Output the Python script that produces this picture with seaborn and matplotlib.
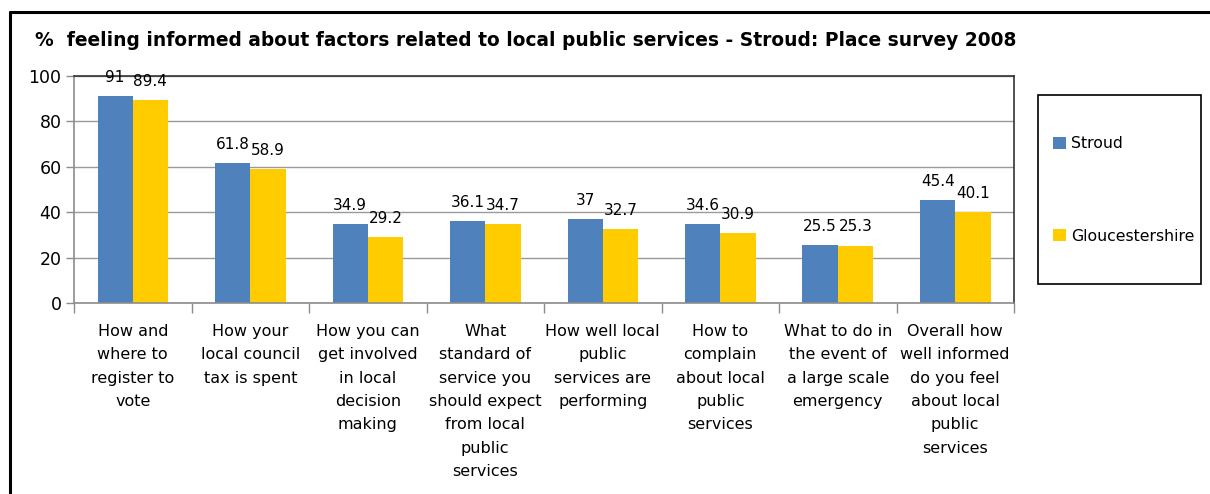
import matplotlib
matplotlib.use("Agg")
import matplotlib.pyplot as plt
from matplotlib.patches import Rectangle
from matplotlib.lines import Line2D
import seaborn as sns
import pandas as pd

categories = [
    "How and\nwhere to\nregister to\nvote",
    "How your\nlocal council\ntax is spent",
    "How you can\nget involved\nin local\ndecision\nmaking",
    "What\nstandard of\nservice you\nshould expect\nfrom local\npublic\nservices",
    "How well local\npublic\nservices are\nperforming",
    "How to\ncomplain\nabout local\npublic\nservices",
    "What to do in\nthe event of\na large scale\nemergency",
    "Overall how\nwell informed\ndo you feel\nabout local\npublic\nservices",
]
stroud = [91, 61.8, 34.9, 36.1, 37, 34.6, 25.5, 45.4]
gloucestershire = [89.4, 58.9, 29.2, 34.7, 32.7, 30.9, 25.3, 40.1]
series_names = ["Stroud", "Gloucestershire"]
colors = ["#4F81BD", "#FFCC00"]
title = "%  feeling informed about factors related to local public services - Stroud: Place survey 2008"

df = pd.DataFrame({
    "category": categories * 2,
    "value": stroud + gloucestershire,
    "area": [series_names[0]] * len(categories) + [series_names[1]] * len(categories),
})

sns.set_theme(style="white")
plt.rcParams["font.family"] = ["DejaVu Sans"]
plt.rcParams["text.color"] = "black"
plt.rcParams["xtick.color"] = "black"
plt.rcParams["ytick.color"] = "black"

W, H = 1210, 494
fig = plt.figure(figsize=(W / 100, H / 100), dpi=100)
fig.patch.set_facecolor("white")

# plot area in pixel terms: x 74..1014, y 76..303
ax = fig.add_axes([74 / W, (H - 303) / H, 940 / W, 227 / H])
sns.barplot(data=df, x="category", y="value", hue="area", palette=colors,
            width=0.6, saturation=1, ax=ax, legend=False, errorbar=None,
            linewidth=0, edgecolor="none")

ax.set_ylim(0, 100)
ax.set_xlim(-0.5, len(categories) - 0.5)
ax.set_yticks(range(0, 101, 20))
ax.set_xlabel("")
ax.set_ylabel("")
ax.yaxis.grid(True, color="#9A9A9A", linewidth=1)
ax.set_axisbelow(True)

for side in ["left", "bottom"]:
    ax.spines[side].set_color("#8C8C8C")
    ax.spines[side].set_linewidth(1.2)
for side in ["top", "right"]:
    ax.spines[side].set_color("#333333")
    ax.spines[side].set_linewidth(1.2)
    ax.spines[side].set_visible(True)

ax.tick_params(axis="y", which="major", length=6, width=1, color="#8C8C8C",
               left=True, labelsize=12.5, pad=3, labelcolor="black")
ax.set_xticks(range(len(categories)))
ax.set_xticklabels(categories, fontsize=11.5, linespacing=1.7, va="top", color="black")
ax.tick_params(axis="x", which="major", length=0, pad=15)
ax.set_xticks([i - 0.5 for i in range(len(categories) + 1)], minor=True)
ax.tick_params(axis="x", which="minor", length=7, width=1, color="#8C8C8C", bottom=True)

for cont in ax.containers:
    ax.bar_label(cont, labels=[f"{v:g}" for v in cont.datavalues],
                 padding=8, fontsize=11, color="black")

fig.text(35 / W, 1 - 40 / H, title, fontsize=13.4, fontweight="bold",
         ha="left", va="center", color="black")

# outer chart frame
fig.add_artist(Line2D([9.5 / W, 9.5 / W], [0, 1 - 12 / H], transform=fig.transFigure,
                      color="black", linewidth=2.2))
fig.add_artist(Line2D([9.5 / W, 1.0], [1 - 12 / H, 1 - 12 / H], transform=fig.transFigure,
                      color="black", linewidth=2.2))

# legend box and entries
fig.add_artist(Rectangle((1038 / W, 1 - 284 / H), 163 / W, 189 / H,
                         transform=fig.transFigure, fill=False,
                         edgecolor="black", linewidth=1.2))
handles = [Rectangle((0, 0), 1, 1, facecolor=c, edgecolor="none") for c in colors]
fig.legend(handles, series_names, loc="center left",
           bbox_to_anchor=(1053 / W, 1 - 190 / H), frameon=False,
           fontsize=11.3, labelspacing=4.95, handlelength=0.8, handleheight=0.8,
           handletextpad=0.35, borderpad=0, borderaxespad=0, labelcolor="black")

fig.savefig("out.png", dpi=100, facecolor="white")
